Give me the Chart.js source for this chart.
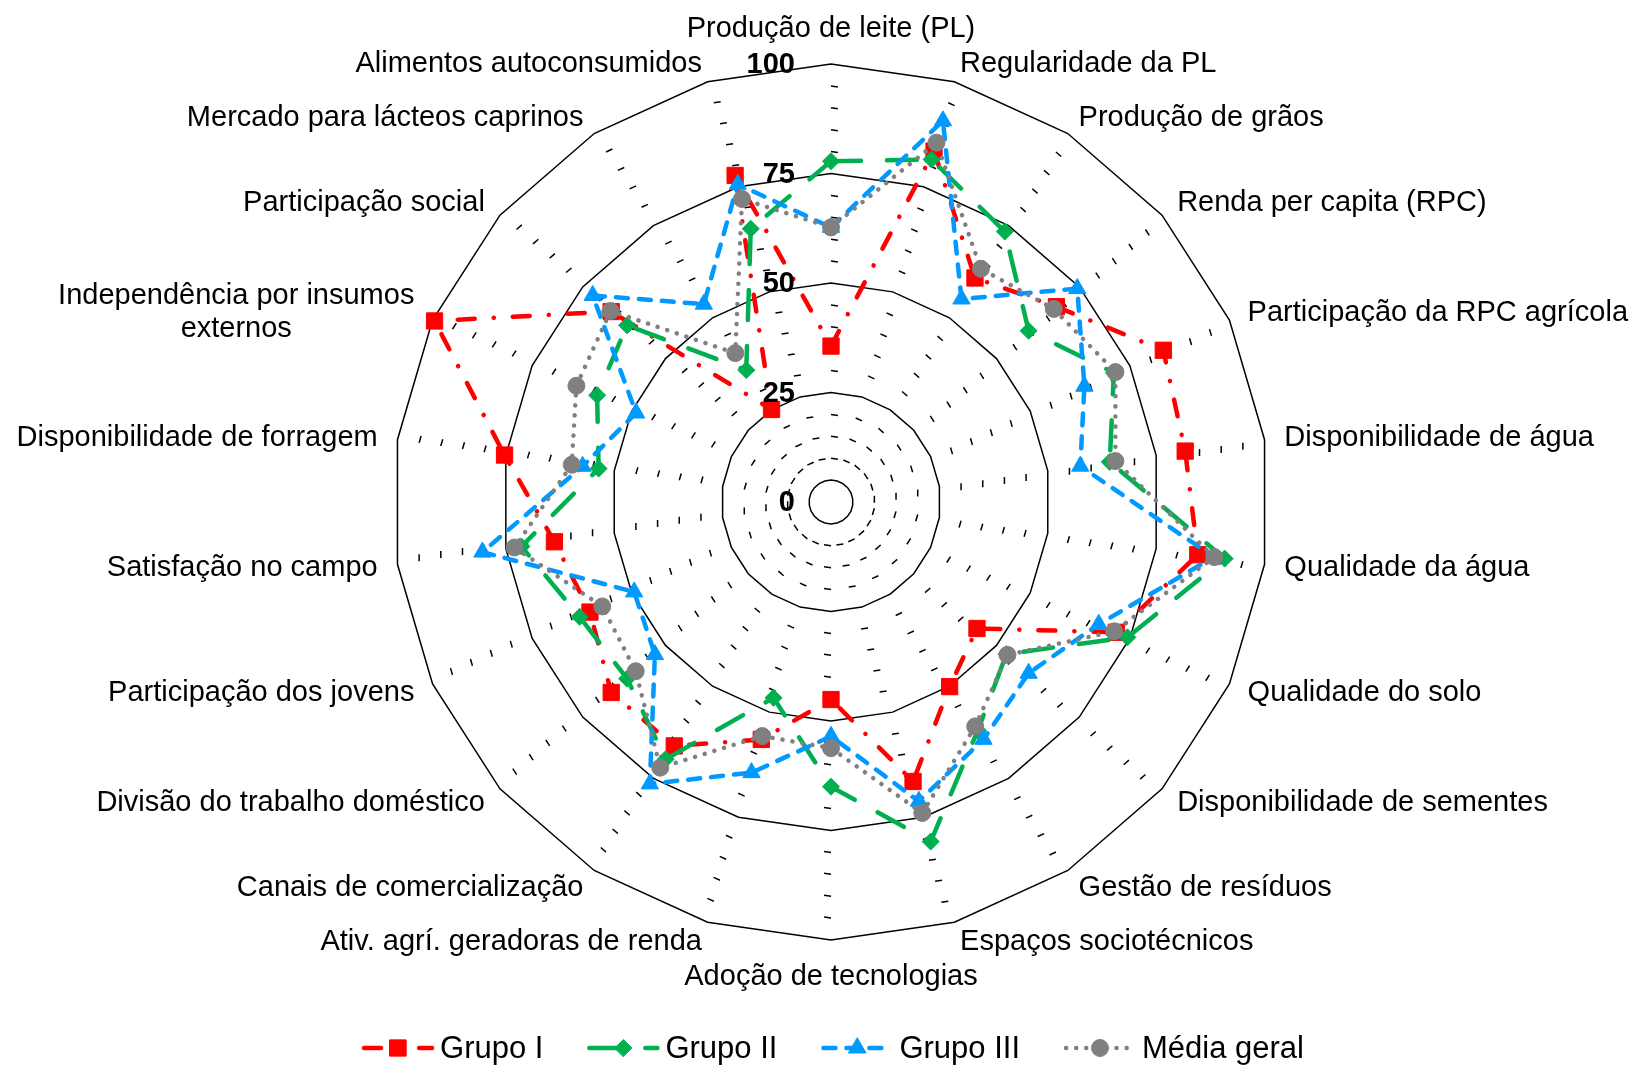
<!DOCTYPE html>
<html>
<head>
<meta charset="utf-8">
<title>Indicadores de sustentabilidade por grupo</title>
<script src="https://cdn.jsdelivr.net/npm/chart.js@4.4.1/dist/chart.umd.min.js"></script>
<style>
  html, body { margin: 0; padding: 0; background: #fff; }
  #wrap { width: 1640px; height: 1065px; }
</style>
</head>
<body>
<div id="wrap"><canvas id="radar" width="1640" height="1065"></canvas></div>
<script>
// indicators, clockwise from the top
const categories = [
  'Produção de leite (PL)', 'Regularidade da PL', 'Produção de grãos',
  'Renda per capita (RPC)', 'Participação da RPC agrícola', 'Disponibilidade de água',
  'Qualidade da água', 'Qualidade do solo', 'Disponibilidade de sementes',
  'Gestão de resíduos', 'Espaços sociotécnicos', 'Adoção de tecnologias',
  'Ativ. agrí. geradoras de renda', 'Canais de comercialização', 'Divisão do trabalho doméstico',
  'Participação dos jovens', 'Satisfação no campo', 'Disponibilidade de forragem',
  ['Independência por insumos', 'externos'], 'Participação social',
  'Mercado para lácteos caprinos', 'Alimentos autoconsumidos'
];

const grupoI   = [35.6, 83.5, 60.8, 68.1, 83.4, 81.7, 84.6, 71.6, 44.1, 50.1, 66.5, 45.1, 56.5, 66.2, 66.4, 60.5, 63.8, 75.3, 99.5, 66.4, 25.1, 77.7];
const grupoII  = [77.8, 81.5, 73.4, 59.7, 71.0, 64.3, 90.8, 74.4, 53.0, 62.0, 80.8, 65.0, 46.6, 69.8, 61.6, 63.1, 71.4, 53.6, 58.7, 61.6, 35.8, 65.0];
const grupoIII = [62.7, 90.7, 55.1, 74.4, 63.6, 57.5, 88.3, 67.2, 59.7, 64.4, 71.2, 53.5, 64.4, 76.5, 53.2, 49.4, 80.4, 57.3, 48.9, 72.0, 53.7, 75.6];
const mediaGeral = [62.7, 85.5, 63.3, 67.3, 71.4, 65.6, 88.4, 71.1, 53.3, 60.9, 74.0, 56.2, 55.7, 72.1, 59.0, 57.4, 73.0, 59.8, 63.9, 66.6, 40.4, 72.1];

const tickLabels = [0, 25, 50, 75, 100];

const FONT = '"Liberation Sans", Arial, Helvetica, sans-serif';

function series(label, data, color, dash, style, radius, order) {
  return {
    label: label,
    data: data,
    borderColor: color,
    backgroundColor: color,
    borderWidth: 4.5,
    borderDash: dash,
    borderCapStyle: 'round',
    borderJoinStyle: 'round',
    fill: false,
    pointStyle: style,
    pointRadius: radius,
    pointBackgroundColor: color,
    pointBorderColor: color,
    pointBorderWidth: 1,
    order: order
  };
}

// text on the chart: axis numbers, indicator names and the legend row
const radarText = {
  id: 'radarText',
  afterDraw(chart) {
    const ctx = chart.ctx;
    const scale = chart.scales.r;
    const n = categories.length;
    ctx.save();
    ctx.fillStyle = '#000';
    ctx.textBaseline = 'middle';

    ctx.font = 'bold 29px ' + FONT;
    ctx.textAlign = 'right';
    tickLabels.forEach(v => {
      const y = scale.yCenter - scale.getDistanceFromCenterForValue(v);
      ctx.fillText(String(v), scale.xCenter - 36, y + 1);
    });

    ctx.font = '29px ' + FONT;
    ctx.textAlign = 'center';
    categories.forEach((lab, i) => {
      const p = scale.getPointPosition(i, scale.drawingArea + 20);
      const s = Math.sin(i * 2 * Math.PI / n);
      const lines = Array.isArray(lab) ? lab : [lab];
      const bw = Math.max(...lines.map(l => ctx.measureText(l).width));
      let bx = p.x, by = p.y;
      if (Math.abs(s) < 0.01) {
        by += (p.y < scale.yCenter) ? -16 : 16;
      } else if (s > 0) {
        bx += bw / 2;
      } else {
        bx -= bw / 2;
      }
      lines.forEach((l, k) => {
        ctx.fillText(l, bx, by + 1 + (k - (lines.length - 1) / 2) * 33);
      });
    });

    // legend
    const sets = chart.data.datasets;
    const sample = 72, gapText = 6, gapItem = 44, y = 1048;
    ctx.font = '31px ' + FONT;
    const widths = sets.map(d => ctx.measureText(d.label).width);
    let total = gapItem * (sets.length - 1);
    widths.forEach(w => { total += sample + gapText + w; });
    let x = 833 - total / 2;
    sets.forEach((d, i) => {
      ctx.strokeStyle = d.borderColor;
      ctx.fillStyle = d.borderColor;
      ctx.lineWidth = d.borderWidth;
      ctx.lineCap = 'round';
      ctx.setLineDash(d.borderDash);
      ctx.beginPath();
      ctx.moveTo(x + 2, y);
      ctx.lineTo(x + sample - 2, y);
      ctx.stroke();
      ctx.setLineDash([]);
      ctx.lineWidth = 1;
      Chart.helpers.drawPoint(ctx, {
        pointStyle: d.pointStyle, radius: d.pointRadius, rotation: 0, borderWidth: 1
      }, x + sample / 2, y);
      ctx.fillStyle = '#000';
      ctx.textAlign = 'left';
      ctx.textBaseline = 'middle';
      ctx.fillText(d.label, x + sample + gapText, y + 1);
      x += sample + gapText + widths[i] + gapItem;
    });
    ctx.restore();
  }
};

new Chart(document.getElementById('radar').getContext('2d'), {
  type: 'radar',
  data: {
    labels: categories,
    datasets: [
      series('Grupo I', grupoI, '#FF0000', [17, 19, 0.1, 19], 'rect', 11.5, 4),
      series('Grupo II', grupoII, '#00B050', [30, 26], 'rectRot', 8.5, 3),
      series('Grupo III', grupoIII, '#0099FF', [12, 11], 'triangle', 10, 2),
      series('Média geral', mediaGeral, '#808080', [0.1, 10], 'circle', 8.5, 1)
    ]
  },
  options: {
    responsive: false,
    animation: false,
    events: [],
    layout: { padding: { left: 393, right: 371, top: 64, bottom: 125 } },
    plugins: {
      legend: { display: false },
      tooltip: { enabled: false }
    },
    scales: {
      r: {
        z: 1, // grid drawn over the series, as in the original
        min: 0,
        max: 100,
        angleLines: { display: false },
        grid: { color: '#000', lineWidth: 1.5 },
        border: {
          // minor rings: one short dash starting at every vertex
          dash: (c) => {
            const v = c.tick.value;
            if (v % 25 === 0) return [];
            const r = c.scale.getDistanceFromCenterForValue(v);
            const side = 2 * r * Math.sin(Math.PI / categories.length);
            return side > 9 ? [7, side - 7] : [];
          }
        },
        ticks: { display: false, stepSize: 5 },
        pointLabels: { display: false }
      }
    }
  },
  plugins: [radarText]
});
</script>
</body>
</html>
